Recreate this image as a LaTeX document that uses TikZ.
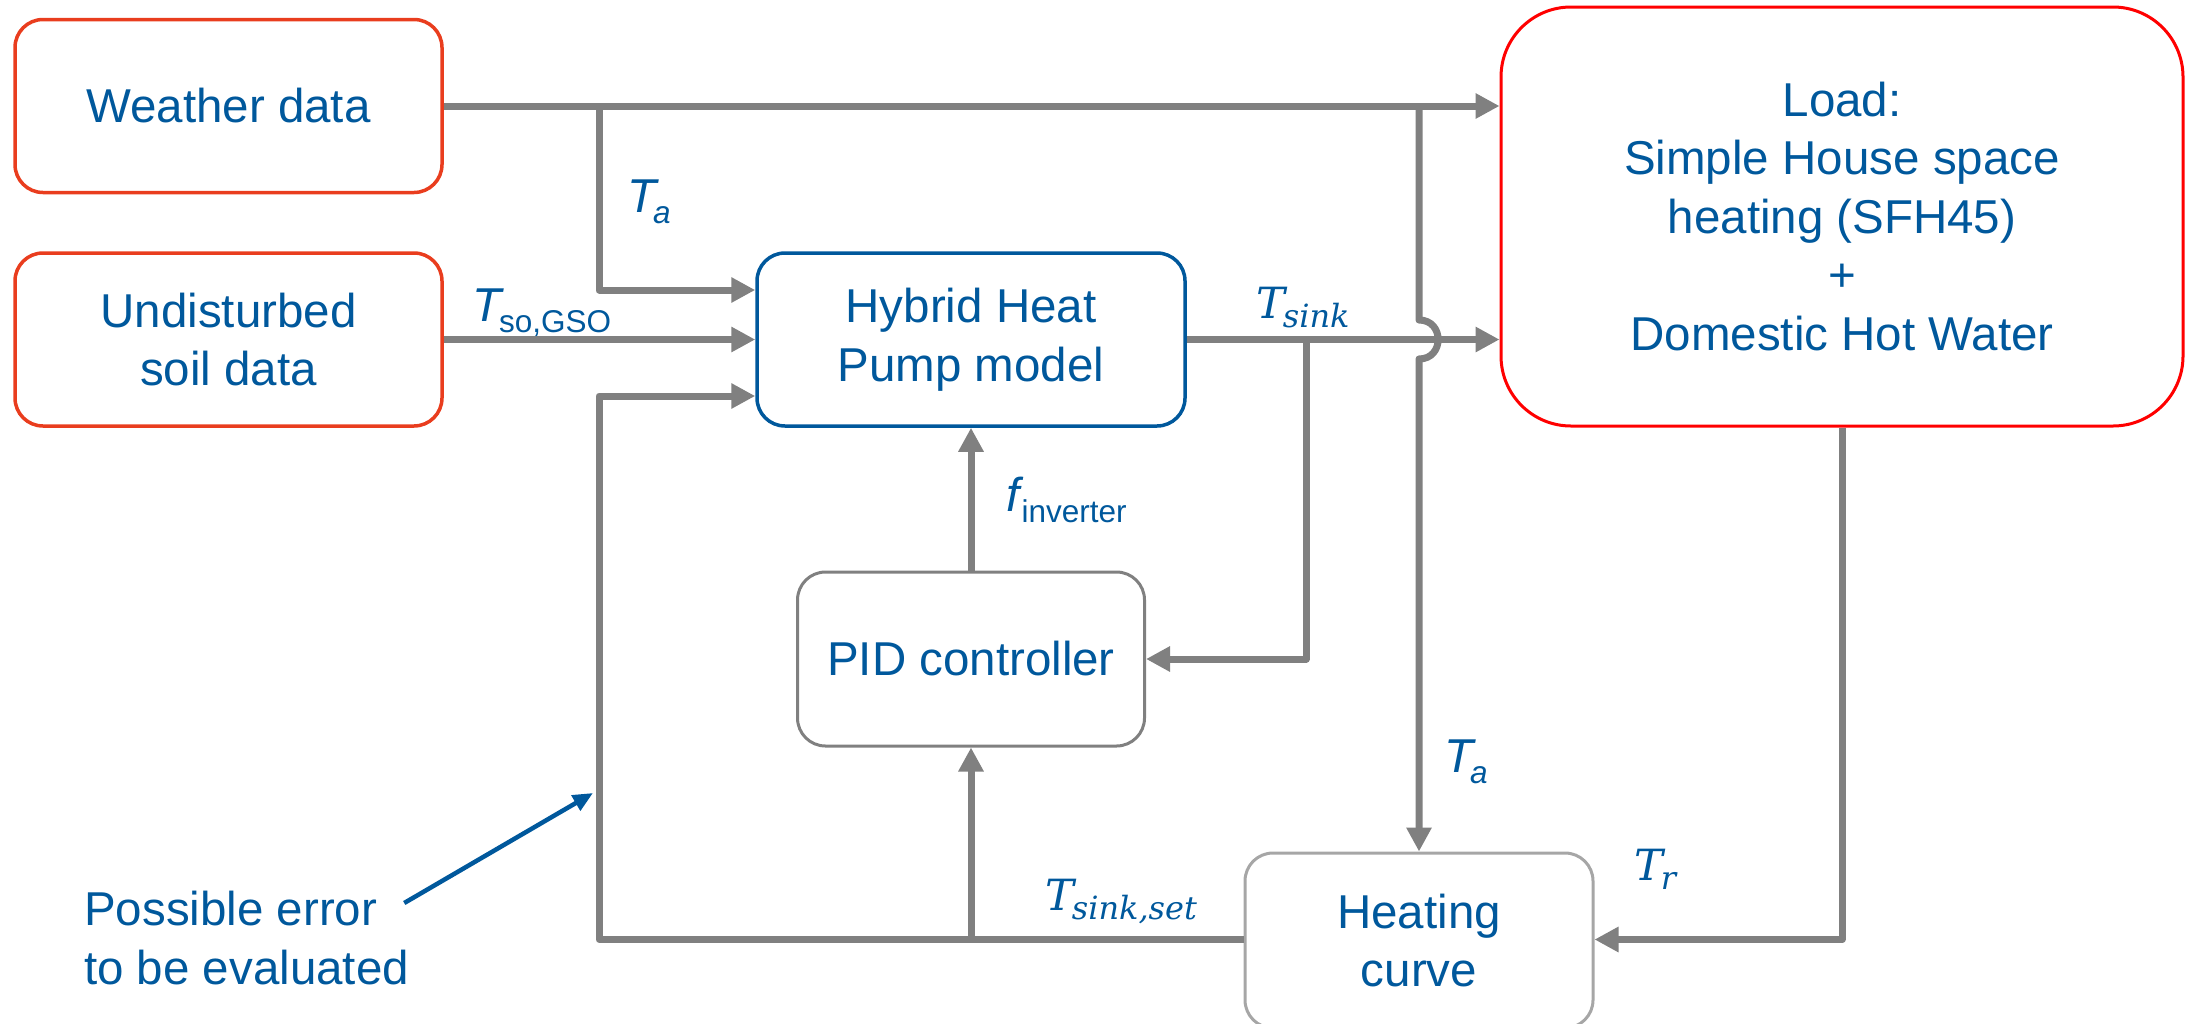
\documentclass[tikz,border=0pt]{standalone}
\usepackage{fontspec}
\setmainfont{Liberation Sans}
\newfontfamily\mathserif{DejaVu Serif}
\usetikzlibrary{arrows.meta}
\definecolor{txtblue}{RGB}{0,88,156}
\definecolor{boxred}{RGB}{233,61,30}
\definecolor{loadred}{RGB}{255,0,0}
\definecolor{linegrey}{RGB}{128,128,128}
\definecolor{lightgrey}{RGB}{166,166,166}
\newcommand{\subA}[1]{\lower11pt\hbox{\fontsize{31.5}{31.5}\selectfont #1}}
\newcommand{\subB}[1]{\lower9pt\hbox{\fontsize{32}{32}\selectfont\mathserif\itshape #1}}
\begin{document}
\begin{tikzpicture}[x=1pt,y=-1pt,
  txt/.style={text=txtblue, font=\fontsize{47.5}{58.5}\selectfont, align=center},
  box/.style={txt, draw, rounded corners=28pt, line width=3.5pt, inner sep=0pt},
  flow/.style={draw=linegrey, line width=7pt, line join=round},
  arr/.style={flow, -{Triangle[length=24pt,width=24pt]}},
  lbl/.style={text=txtblue, inner sep=0pt, anchor=base west, font=\fontsize{47.5}{47.5}\selectfont},
  slbl/.style={lbl, font=\fontsize{43}{43}\selectfont\mathserif\itshape}
]
\useasboundingbox (0,0) rectangle (2186,1023);

% boxes
\node[box, draw=boxred, minimum width=427pt, minimum height=173pt] (weather) at (228.5,106) {Weather data};
\node[box, draw=boxred, minimum width=427pt, minimum height=173pt] (soil) at (228.5,339.5) {Undisturbed\\soil data};
\node[box, draw=txtblue, minimum width=428pt, minimum height=173pt] (hp) at (971,339.5) {Hybrid Heat\\Pump model};
\node[box, draw=loadred, rounded corners=70pt, line width=3pt, minimum width=682pt, minimum height=419pt] (load) at (1842,216.5) {Load:\\Simple House space\\heating (SFH45)\\+\\Domestic Hot Water};
\node[box, draw=linegrey, line width=3pt, minimum width=347pt, minimum height=174pt] (pid) at (971,659) {PID controller};
\node[box, draw=lightgrey, line width=3pt, minimum width=348pt, minimum height=175pt] (heat) at (1419,940.5) {Heating\\curve};
\node[txt, align=left, anchor=north west, inner sep=0pt] (err) at (84,891) {Possible error\\to be evaluated};

% junction coordinates
\coordinate (jw) at (599,106);
\coordinate (jl) at (599,939.5);
\coordinate (js) at (1306,339.5);
\coordinate (jt) at (heat.north |- weather.east);
\coordinate (hopc) at (heat.north |- hp.east);
\coordinate (jb) at (pid.south |- jl);
\coordinate (errtip) at (593,793);

% connectors
\draw[arr] (weather.east) -- (weather.east -| load.west);
\draw[arr] (jw) |- ([yshift=49.5pt]hp.west);
\draw[arr] (soil.east) -- (hp.west);
\draw[arr] (heat.west |- jl) -- (jl) |- ([yshift=-56.5pt]hp.west);
\draw[arr] (jb) -- (pid.south);
\draw[arr] (pid.north) -- (hp.south);
\draw[arr] (hp.east) -- (load.west |- hp.east);
\draw[arr] (js) |- (pid.east);
\draw[arr] (jt) -- ([yshift=19.5pt]hopc) .. controls +(25.5,0) and +(25.5,0) .. ([yshift=-19.5pt]hopc) -- (heat.north);
\draw[arr] (load.south) |- (heat.east |- jl);
\draw[txtblue, line width=4.5pt, -{Triangle[length=20pt,width=17pt]}] ([xshift=-5pt,yshift=-12pt]err.north east) -- (errtip);

% labels
\node[lbl] (la1) at (627,212) {\textit{T}\kern-6pt\subA{\textit{a}}};
\node[lbl] (lso) at (472,321) {\textit{T}\kern-5pt\subA{so,GSO}};
\node[lbl] (lf) at (1006,511) {\textit{f}\kern-2pt\subA{inverter}};
\node[lbl] (la2) at (1444,772) {\textit{T}\kern-6pt\subA{\textit{a}}};
\node[slbl] (lsink) at (1256,318) {T\kern-2pt\subB{sink}};
\node[slbl] (lset) at (1045,910) {T\kern-2pt\subB{sink,set}};
\node[slbl] (lr) at (1634,880) {T\kern-2pt\subB{r}};
\end{tikzpicture}
\end{document}
